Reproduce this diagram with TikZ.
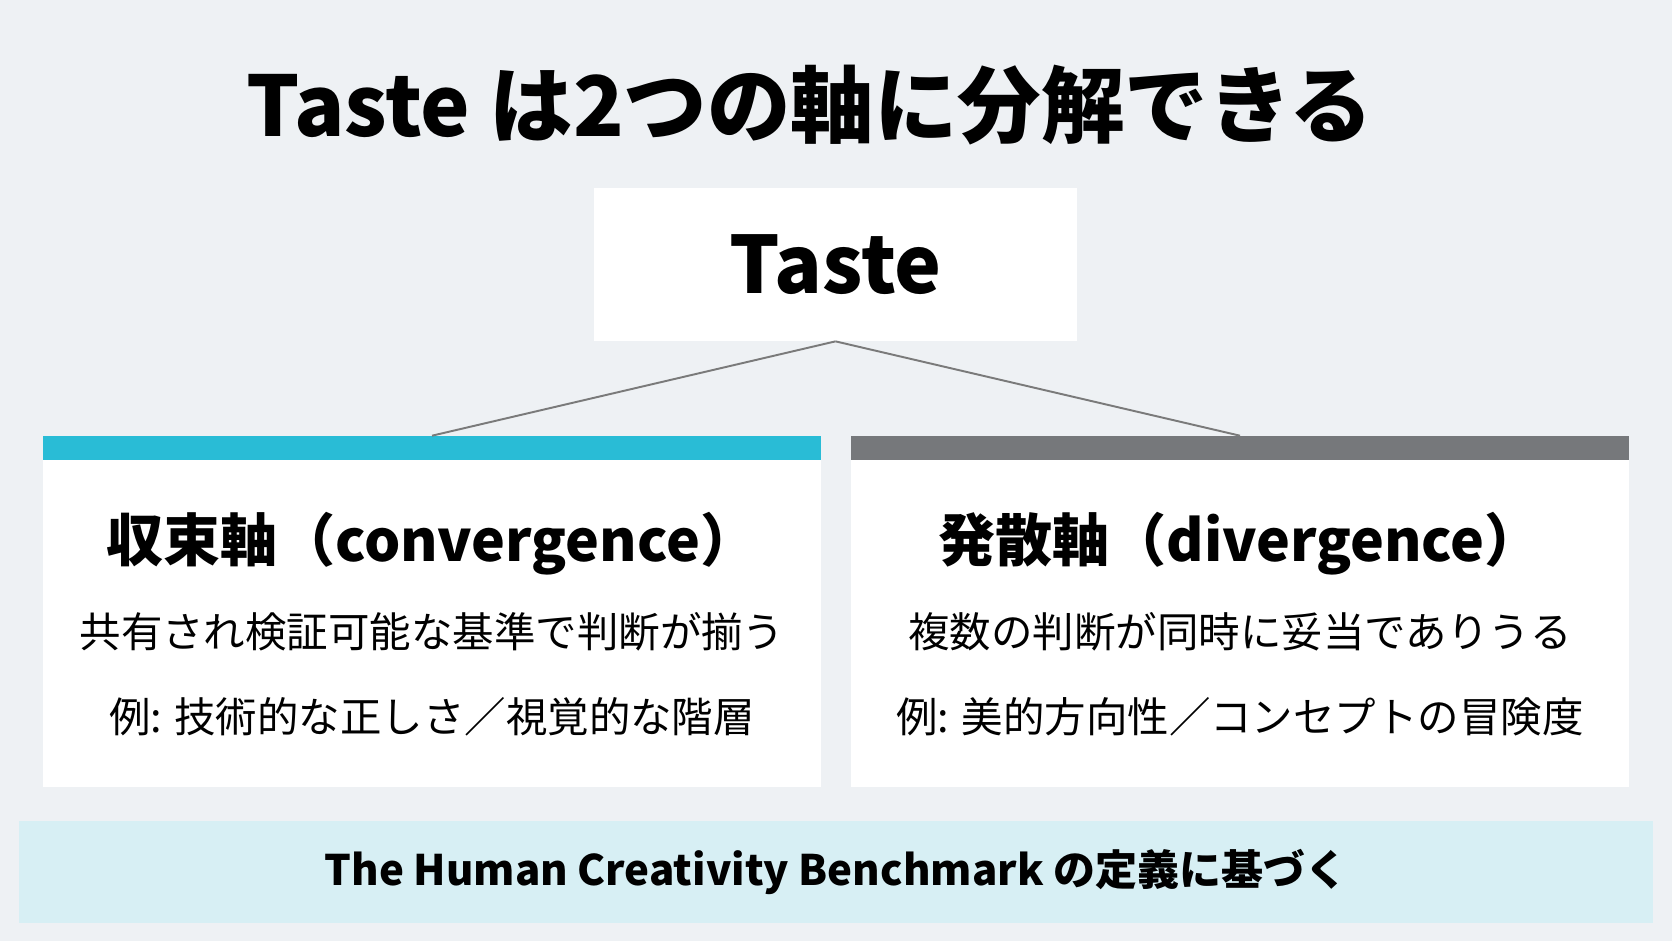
\documentclass[tikz,border=0pt]{standalone}
\usepackage{fontspec}
\setmainfont{Noto Sans CJK JP}
\usetikzlibrary{positioning}
\definecolor{bgcol}{HTML}{EEF1F4}
\definecolor{convcol}{HTML}{29BCD6}
\definecolor{divcol}{HTML}{76787B}
\definecolor{bandcol}{HTML}{D7EFF4}
\definecolor{linkcol}{HTML}{7A7A7A}

\begin{document}
\begin{tikzpicture}[x=0.02cm, y=-0.02cm,
    panel/.style={fill=white, inner sep=0pt, minimum width=15.56cm, minimum height=7.02cm},
    bar/.style={inner sep=0pt, minimum width=15.56cm, minimum height=0.48cm, anchor=north},
    head/.style={font=\bfseries\fontsize{32.5}{38}\selectfont},
    body/.style={font=\fontsize{23.6}{28}\selectfont},
    link/.style={draw=linkcol, line width=1.1pt}]
    \fill[bgcol] (0,0) rectangle (1672,941);
    \useasboundingbox (0,0) rectangle (1672,941);

    \node[font=\bfseries\fontsize{47.5}{54}\selectfont] (title) at (810,105) {Taste は2つの軸に分解できる};
    \node[fill=white, minimum width=9.66cm, minimum height=3.06cm, font=\bfseries\fontsize{45}{50}\selectfont] (taste) at (835.5,264.5) {Taste};

    \node[panel] (conv) at (432,611.5) {};
    \node[bar, fill=convcol] (convbar) at (conv.north) {};
    \node[panel] (div) at (1240,611.5) {};
    \node[bar, fill=divcol] (divbar) at (div.north) {};

    \node[head] (convh) at ([yshift=-2.16cm]conv.north) {収束軸（convergence）};
    \node[body] (convt) at ([yshift=-3.92cm]conv.north) {共有され検証可能な基準で判断が揃う};
    \node[body] (conve) at ([yshift=-5.62cm]conv.north) {例: 技術的な正しさ／視覚的な階層};

    \node[head] (divh) at ([yshift=-2.16cm]div.north) {発散軸（divergence）};
    \node[body] (divt) at ([yshift=-3.92cm]div.north) {複数の判断が同時に妥当でありうる};
    \node[body] (dive) at ([yshift=-5.62cm]div.north) {例: 美的方向性／コンセプトの冒険度};

    \draw[link] (taste.south) -- (convbar.north);
    \draw[link] (taste.south) -- (divbar.north);

    \node[fill=bandcol, minimum width=32.68cm, minimum height=2.04cm, font=\bfseries\fontsize{23.9}{28}\selectfont] (band) at (836,872) {The Human Creativity Benchmark の定義に基づく};
\end{tikzpicture}
\end{document}
